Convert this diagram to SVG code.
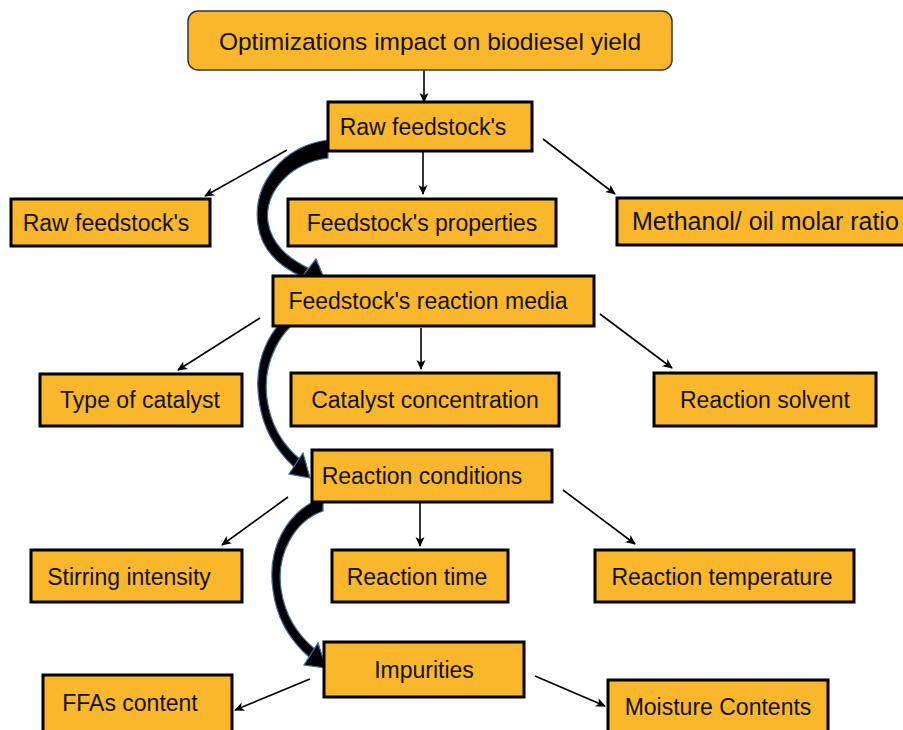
<svg xmlns="http://www.w3.org/2000/svg" width="903" height="730" viewBox="0 0 903 730">
<defs>
<marker id="ah" markerWidth="10" markerHeight="10" refX="9" refY="5" orient="auto" markerUnits="userSpaceOnUse">
<path d="M0,0.5 L10,5 L0,9.5 L2.5,5 Z" fill="#000"/>
</marker>
</defs>
<style>
.box{fill:#FBB72B;stroke:#000;stroke-width:3}
.top{fill:#FBB72B;stroke:#333;stroke-width:1.5}
.t{font-family:"Liberation Sans",Arial,sans-serif;font-size:23px;fill:#111;text-anchor:middle}
.ln{stroke:#000;stroke-width:1.6;fill:none;marker-end:url(#ah)}
.cv{fill:#000;stroke:#3a6fa8;stroke-width:1.2}
</style>
<rect width="903" height="730" fill="#fff"/>
<g id="connectors">
<line class="ln" x1="424" y1="58" x2="424" y2="102"/>
<line class="ln" x1="287" y1="150" x2="205" y2="196"/>
<line class="ln" x1="423" y1="152" x2="423" y2="194"/>
<line class="ln" x1="543" y1="139" x2="615" y2="194"/>
<line class="ln" x1="260" y1="318" x2="178" y2="370"/>
<line class="ln" x1="421" y1="328" x2="421" y2="369"/>
<line class="ln" x1="600" y1="314" x2="672" y2="368"/>
<line class="ln" x1="288" y1="497" x2="222" y2="545"/>
<line class="ln" x1="420" y1="500" x2="420" y2="546"/>
<line class="ln" x1="563" y1="490" x2="635" y2="544"/>
<line class="ln" x1="310" y1="679" x2="235" y2="710"/>
<line class="ln" x1="535" y1="676" x2="605" y2="706"/>
<g id="curve1">
<path class="cv" d="M328,140 C282,146 252,185 258,225 C262,252 282,268 303,277 L308,268 C288,258 272,245 268,222 C264,192 290,163 328,158 Z"/>
<path class="cv" d="M327,285 L316,259 L298,282 Z"/>
</g>
<g id="curve2">
<path class="cv" d="M310,304 C270,318 253,360 259,400 C263,432 278,452 294,467 L301,460 C285,447 271,428 267,399 C262,364 280,326 310,314 Z"/>
<path class="cv" d="M310,478 L303,453 L289,474 Z"/>
</g>
<g id="curve3">
<path class="cv" d="M323,497 C285,512 267,550 273,590 C277,622 292,642 309,657 L316,650 C300,637 285,618 281,589 C276,555 294,521 323,511 Z"/>
<path class="cv" d="M326,668 L318,643 L304,665 Z"/>
</g>
</g>
<g id="n_top"><rect class="top" x="188" y="11" width="484" height="59" rx="10"/><text class="t" x="430" y="50" style="font-size:24.5px">Optimizations impact on biodiesel yield</text></g>
<g id="n_raw_main"><rect class="box" x="328" y="102" width="204" height="49"/><text class="t" x="423" y="135">Raw feedstock's</text></g>
<g id="n_raw"><rect class="box" x="11" y="199" width="199" height="47"/><text class="t" x="106" y="231">Raw feedstock's</text></g>
<g id="n_props"><rect class="box" x="288" y="199" width="268" height="47"/><text class="t" x="422" y="231">Feedstock's properties</text></g>
<g id="n_meth"><rect class="box" x="617" y="198" width="300" height="47"/><text class="t" x="632" y="230" style="text-anchor:start;font-size:25px">Methanol/ oil molar ratio</text></g>
<g id="n_media"><rect class="box" x="273" y="276" width="321" height="50"/><text class="t" x="428" y="309">Feedstock's reaction media</text></g>
<g id="n_cat_type"><rect class="box" x="40" y="374" width="202" height="52"/><text class="t" x="140" y="408">Type of catalyst</text></g>
<g id="n_cat_conc"><rect class="box" x="291" y="373" width="268" height="53"/><text class="t" x="425" y="408">Catalyst concentration</text></g>
<g id="n_solvent"><rect class="box" x="654" y="373" width="222" height="53"/><text class="t" x="765" y="408">Reaction solvent</text></g>
<g id="n_conditions"><rect class="box" x="312" y="450" width="240" height="52"/><text class="t" x="422" y="484">Reaction conditions</text></g>
<g id="n_stirring"><rect class="box" x="31" y="550" width="211" height="52"/><text class="t" x="129" y="585">Stirring intensity</text></g>
<g id="n_time"><rect class="box" x="332" y="550" width="176" height="52"/><text class="t" x="417" y="585">Reaction time</text></g>
<g id="n_temp"><rect class="box" x="595" y="550" width="259" height="52"/><text class="t" x="722" y="585">Reaction temperature</text></g>
<g id="n_impurities"><rect class="box" x="324" y="642" width="200" height="55"/><text class="t" x="424" y="678">Impurities</text></g>
<g id="n_ffa"><rect class="box" x="43" y="675" width="189" height="62"/><text class="t" x="130" y="711">FFAs content</text></g>
<g id="n_moisture"><rect class="box" x="608" y="680" width="220" height="57"/><text class="t" x="718" y="715">Moisture Contents</text></g>
</svg>
